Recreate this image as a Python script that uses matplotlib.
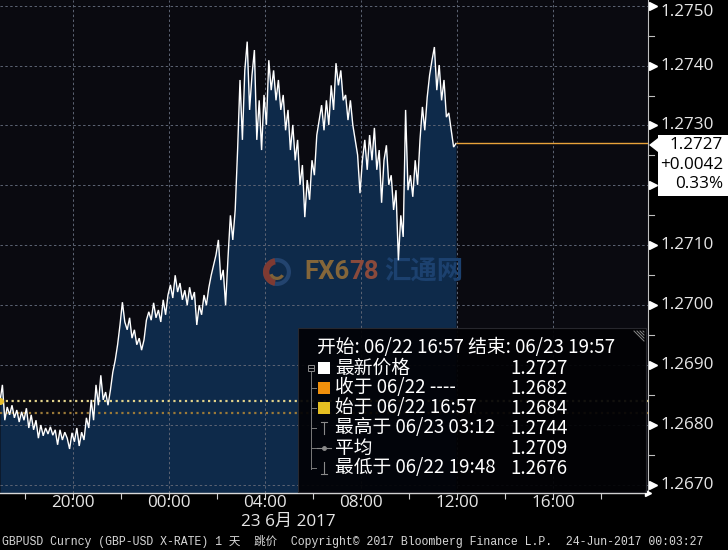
import numpy as np
import matplotlib
matplotlib.use("Agg")
import matplotlib.pyplot as plt
from matplotlib.patches import Rectangle, Polygon, Wedge
from matplotlib.lines import Line2D
import matplotlib.transforms as mtrans

# ---------------- data ----------------
start_hour = 16 + 57 / 60          # 06/22 16:57
step_hours = 0.1                   # 6-minute samples
end_hour = 43 + 57 / 60            # 06/23 19:57

prices = [
    1.26840, 1.26867, 1.26808, 1.26830, 1.26817, 1.26833, 1.26812, 1.26825, 1.26805, 1.26822,
    1.26808, 1.26828, 1.26795, 1.26817, 1.26792, 1.26808, 1.26778, 1.26800, 1.26782, 1.26795,
    1.26785, 1.26797, 1.26783, 1.26792, 1.26767, 1.26792, 1.26775, 1.26788, 1.26778, 1.26760,
    1.26787, 1.26772, 1.26795, 1.26765, 1.26788, 1.26775, 1.26812, 1.26795, 1.26842, 1.26808,
    1.26867, 1.26833, 1.26883, 1.26842, 1.26855, 1.26833, 1.26858, 1.26888, 1.26908, 1.26934,
    1.26967, 1.27005, 1.26972, 1.26959, 1.26979, 1.26945, 1.26959, 1.26934, 1.26945, 1.26925,
    1.26942, 1.26975, 1.26989, 1.26975, 1.27004, 1.26979, 1.26992, 1.26972, 1.27009, 1.26984,
    1.27017, 1.27034, 1.27012, 1.27050, 1.27022, 1.27037, 1.27009, 1.27025, 1.27000, 1.27030,
    1.27009, 1.27022, 1.26967, 1.27000, 1.26984, 1.27017, 1.27000, 1.27029, 1.27050, 1.27067,
    1.27084, 1.27109, 1.27042, 1.27059, 1.27000, 1.27079, 1.27150, 1.27109, 1.27159, 1.27259,
    1.27376, 1.27276, 1.27392, 1.27440, 1.27326, 1.27384, 1.27426, 1.27276, 1.27342, 1.27259,
    1.27351, 1.27301, 1.27409, 1.27359, 1.27392, 1.27342, 1.27376, 1.27326, 1.27351, 1.27292,
    1.27326, 1.27259, 1.27301, 1.27242, 1.27276, 1.27201, 1.27234, 1.27147, 1.27209, 1.27176,
    1.27242, 1.27217, 1.27284, 1.27309, 1.27334, 1.27292, 1.27342, 1.27301, 1.27367, 1.27326,
    1.27404, 1.27367, 1.27392, 1.27342, 1.27351, 1.27309, 1.27342, 1.27301, 1.27276, 1.27251,
    1.27187, 1.27242, 1.27276, 1.27226, 1.27284, 1.27242, 1.27296, 1.27226, 1.27259, 1.27171,
    1.27242, 1.27267, 1.27201, 1.27217, 1.27159, 1.27192, 1.27075, 1.27150, 1.27114, 1.27326,
    1.27192, 1.27217, 1.27181, 1.27242, 1.27201, 1.27276, 1.27331, 1.27292, 1.27347, 1.27384,
    1.27409, 1.27431, 1.27359, 1.27401, 1.27342, 1.27376, 1.27314, 1.27321, 1.27292, 1.27264,
    1.27270,
]
times = start_hour + step_hours * np.arange(len(prices))

last_price = 1.2727
prev_close = 1.2682
open_price = 1.2684
change_abs = "+0.0042"
change_pct = "0.33%"

y_ticks = [1.2670, 1.2680, 1.2690, 1.2700, 1.2710, 1.2720, 1.2730, 1.2740, 1.2750]
y_hidden_label = 1.2720            # label covered by the last-price box
y_minor = [1.2675, 1.2685, 1.2695, 1.2705, 1.2715, 1.2725, 1.2735, 1.2745]
x_major = [20, 24, 28, 32, 36, 40]
x_labels = ["20:00", "00:00", "04:00", "08:00", "12:00", "16:00"]
x_all_ticks = [18, 20, 22, 24, 26, 28, 30, 32, 34, 36, 38, 40, 42]
date_label = "23 6月 2017"

header = "开始: 06/22 16:57 结束: 06/23 19:57"
legend_rows = [
    ("最新价格", "1.2727", "#ffffff", "sq"),
    ("收于 06/22 ----", "1.2682", "#f0900c", "sq"),
    ("始于 06/22 16:57", "1.2684", "#e6bf22", "sq"),
    ("最高于 06/23 03:12", "1.2744", None, "hi"),
    ("平均", "1.2709", None, "avg"),
    ("最低于 06/22 19:48", "1.2676", None, "lo"),
]
footer = ("GBPUSD Curncy (GBP-USD X-RATE) 1 天  跳价  Copyright© 2017 "
          "Bloomberg Finance L.P.  24-Jun-2017 00:03:27")

# ---------------- figure ----------------
W, H = 728, 550
fig = plt.figure(figsize=(W / 100, H / 100), dpi=100, facecolor="black")


def fx(px):
    return px / W


def fy(py):
    return 1 - py / H


ax_right, ax_bottom = 648, 493
ax = fig.add_axes([0, fy(ax_bottom), fx(ax_right), ax_bottom / H])
ax.set_facecolor("#0a0a10")
ymin, ymax = 1.266865, 1.275095
ax.set_xlim(start_hour, end_hour)
ax.set_ylim(ymin, ymax)

# fill + line
ax.fill_between(times, prices, ymin, color="#0e2a4a", lw=0, zorder=1)
ax.plot(times, prices, color="white", lw=1.0, zorder=4, solid_joinstyle="miter")

# grid
grid_kw = dict(color="#5d6474", lw=0.7, ls=(0, (2.5, 2.5)), zorder=2)
for v in y_ticks:
    ax.axhline(v, **grid_kw)
for h in x_major:
    ax.axvline(h, **grid_kw)

# reference lines
ax.axhline(open_price, color="#e2d28a", lw=1.6, ls=(0, (1, 1.6)), zorder=3)
ax.axhline(prev_close, color="#9c7a38", lw=1.6, ls=(0, (1, 1.6)), zorder=3)
ax.plot([times[0]], [open_price], marker="o", ms=4, color="#e8c030",
        clip_on=False, zorder=5)
ax.hlines(last_price, times[-1], end_hour, color="#e8a33a", lw=1.0, zorder=4)

# watermark
ctr = mtrans.Affine2D().scale(14).translate(277, H - 272)
ax.add_patch(Wedge((0, 0), 1, 0, 360, transform=ctr, width=0.3,
                   facecolor="#23446f", edgecolor="none", zorder=2.5))
ax.add_patch(Wedge((0, 0), 1, 100, 260, transform=ctr, width=0.45,
                   facecolor="#7e3a32", edgecolor="none", zorder=2.6))
ax.add_patch(Wedge((0, 0), 1, 200, 330,
                   transform=mtrans.Affine2D().scale(8).translate(277, H - 272),
                   width=0.4, facecolor="#7e6238", edgecolor="none", zorder=2.6))
wm = ax.text(304 / 648, 1 - 272 / 493, "FX6", color="#84663a", fontsize=18.5,
             fontweight="bold", family="Roboto", va="center", ha="left",
             transform=ax.transAxes, zorder=2.5)
wm2 = ax.annotate("78", xy=(1, 0.5), xycoords=wm, va="center", ha="left",
                  color="#8a4a3c", fontsize=18.5, fontweight="bold", family="Roboto",
                  zorder=2.5)
ax.text(384 / 648, 1 - 272 / 493, "汇通网", color="#1c416f", fontsize=19,
        fontweight="bold", family="Noto Sans CJK SC", va="center", ha="left",
        transform=ax.transAxes, zorder=2.5)

# spines & ticks
for s in ["top", "left"]:
    ax.spines[s].set_visible(False)
ax.spines["right"].set_color("#bfbfbf")
ax.spines["right"].set_linewidth(0.8)
ax.spines["bottom"].set_color("#d8d8d8")
ax.spines["bottom"].set_linewidth(1.0)
ax.set_yticks([])
ax.set_xticks(x_all_ticks)
ax.set_xticklabels([""] * len(x_all_ticks))
ax.tick_params(axis="x", direction="out", length=4, width=0.8, color="#d0d0d0")
ax.plot([1.0], [0.0], marker=">", ms=5, color="white", transform=ax.transAxes,
        clip_on=False, zorder=6)

tick_font = dict(family="Open Sans", fontsize=12.3, color="#e6e6e6")
xtrans = mtrans.blended_transform_factory(ax.transData, ax.transAxes)
for h, lab in zip(x_major, x_labels):
    ax.text(h, -(503 - 493) / 493, lab, transform=xtrans, ha="center", va="center",
            **tick_font)
fig.text(fx(288), fy(522), date_label, ha="center", va="center",
         family=["Open Sans", "Noto Sans CJK SC"], fontsize=12.3, color="#e6e6e6")

ytrans = mtrans.blended_transform_factory(ax.transAxes, ax.transData)
for v in y_ticks:
    ax.plot([1.0 + 5 / 648], [v], marker=">", ms=5.5, color="white",
            transform=ytrans, clip_on=False, zorder=6)
    if v == y_hidden_label:
        continue
    t = ax.text(1.0 + 13 / 648, v, f"{v:.4f}", transform=ytrans, ha="left",
                va="center", clip_on=False, **tick_font)
    if v == max(y_ticks):
        t.set_transform(ytrans + mtrans.ScaledTranslation(0, -6 / 100, fig.dpi_scale_trans))
for v in y_minor:
    ax.plot([1.0, 1.0 + 6 / 648], [v, v], color="#bfbfbf", lw=0.8,
            transform=ytrans, clip_on=False)

# last price box
box = Polygon([(fx(649), fy(145)), (fx(658), fy(138)), (fx(658), fy(135)),
               (fx(728), fy(135)), (fx(728), fy(196)), (fx(658), fy(196)),
               (fx(658), fy(152))], closed=True, transform=fig.transFigure,
              facecolor="white", edgecolor="none", zorder=10)
fig.add_artist(box)
box_font = dict(family="Open Sans", fontsize=12.3, color="black", ha="right",
                va="center", zorder=11)
fig.text(fx(723), fy(145), f"{last_price:.4f}", **box_font)
fig.text(fx(723), fy(165), change_abs, **box_font)
fig.text(fx(723), fy(184), change_pct, **box_font)

# legend box
lg = Rectangle((fx(298), fy(492)), fx(646 - 298), (492 - 328) / H,
               transform=fig.transFigure, facecolor="#020205", alpha=0.93,
               edgecolor="#2a2a30", lw=0.8, zorder=8)
fig.add_artist(lg)
for k in range(4):
    o = 3 * k
    fig.add_artist(Line2D([fx(634 + o), fx(644)], [fy(331), fy(341 - o)],
                          transform=fig.transFigure, color="#8a8a8a", lw=0.7, zorder=9))
cjk = ["Noto Sans CJK SC", "DejaVu Sans"]
lfont = dict(family=cjk, fontsize=13.5, color="white", va="center", zorder=9)
fig.text(fx(317), fy(348), header, ha="left", **lfont)
row_y = [368, 388, 408, 428, 448, 468]


def fline(xs, ys, **kw):
    fig.add_artist(Line2D([fx(v) for v in xs], [fy(v) for v in ys],
                          transform=fig.transFigure, zorder=9, **kw))


fline([311, 311], [372, 469], color="#7a7a7a", lw=0.7)
fig.add_artist(Rectangle((fx(308), fy(371)), fx(6), 6 / H, transform=fig.transFigure,
                         facecolor="none", edgecolor="#8a8a8a", lw=0.7, zorder=9))
fline([309, 313], [368, 368], color="#8a8a8a", lw=0.7)
for (label, val, col, kind), yy in zip(legend_rows, row_y):
    if yy > 370:
        fline([311, 316], [yy, yy], color="#7a7a7a", lw=0.7)
    if kind == "sq":
        fig.add_artist(Rectangle((fx(318), fy(yy + 6)), fx(12), 12 / H,
                                 transform=fig.transFigure, facecolor=col,
                                 edgecolor="none", zorder=9))
    elif kind == "hi":
        fline([321, 327], [yy - 6, yy - 6], color="#8a8a8a", lw=0.8)
        fline([324, 324], [yy - 6, yy + 6], color="#8a8a8a", lw=0.8)
    elif kind == "lo":
        fline([321, 327], [yy + 6, yy + 6], color="#8a8a8a", lw=0.8)
        fline([324, 324], [yy - 6, yy + 6], color="#8a8a8a", lw=0.8)
    else:
        fline([317, 331], [yy, yy], color="#8a8a8a", lw=0.8)
        fline([324], [yy], color="#8a8a8a", marker="o", ms=2.5)
    fig.text(fx(335), fy(yy), label, ha="left", **lfont)
    fig.text(fx(510), fy(yy), val, ha="left", **lfont)

# footer
fig.text(fx(2), fy(541), footer, ha="left", va="center",
         family=["Liberation Mono", "Noto Sans CJK SC"], fontsize=8.3, color="#d8d8d8")

fig.savefig("out.png", dpi=100, facecolor="black")
